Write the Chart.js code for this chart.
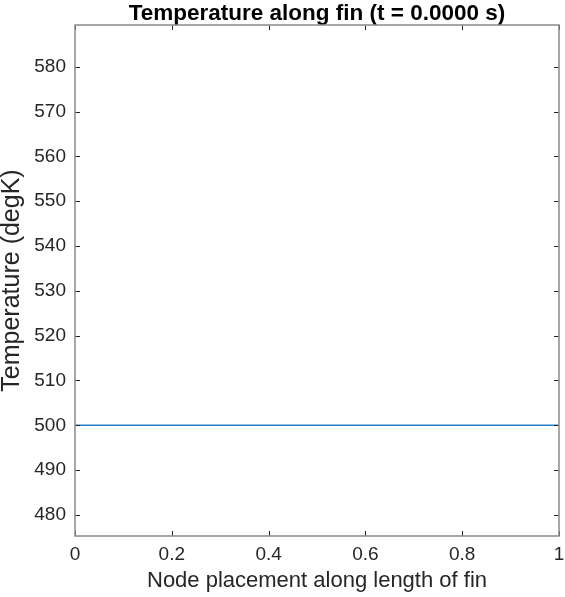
<!DOCTYPE html>
<html>
<head>
<meta charset="utf-8">
<script src="https://cdn.jsdelivr.net/npm/chart.js@4"></script>
<style>
  html, body { margin: 0; padding: 0; background: #fff; }
  #wrap { width: 565px; height: 597px; }
</style>
</head>
<body>
<div id="wrap"><canvas id="finChart" width="565" height="597"></canvas></div>
<script>
// node positions along the fin and temperature at each node (t = 0)
const nodePos = [0, 0.1, 0.2, 0.3, 0.4, 0.5, 0.6, 0.7, 0.8, 0.9, 1];
const nodeTemp = [500, 500, 500, 500, 500, 500, 500, 500, 500, 500, 500];

const xTicks = [0, 0.2, 0.4, 0.6, 0.8, 1];
const xTickLabels = ['0', '0.2', '0.4', '0.6', '0.8', '1'];
const yTicks = [480, 490, 500, 510, 520, 530, 540, 550, 560, 570, 580];

const textColor = '#262626';
const fontFamily = '"Liberation Sans", Arial, Helvetica, sans-serif';

// box around the plot plus inward tick marks on all four sides
const axesBox = {
    id: 'axesBox',
    afterDraw(chart) {
        const ctx = chart.ctx;
        const a = chart.chartArea;
        const xs = chart.scales.x;
        const ys = chart.scales.y;
        const len = 5;
        ctx.save();
        ctx.strokeStyle = textColor;
        ctx.lineWidth = 1;
        ctx.beginPath();
        xs.ticks.forEach(t => {
            const px = Math.round(xs.getPixelForValue(t.value)) + 0.5;
            ctx.moveTo(px, a.bottom); ctx.lineTo(px, a.bottom - len);
            ctx.moveTo(px, a.top); ctx.lineTo(px, a.top + len);
        });
        ys.ticks.forEach(t => {
            const py = Math.round(ys.getPixelForValue(t.value)) + 0.5;
            ctx.moveTo(a.left, py); ctx.lineTo(a.left + len, py);
            ctx.moveTo(a.right, py); ctx.lineTo(a.right - len, py);
        });
        ctx.stroke();
        ctx.strokeStyle = '#8a8a8a';
        ctx.lineWidth = 1.5;
        ctx.strokeRect(a.left, a.top, a.right - a.left, a.bottom - a.top);
        ctx.restore();
    }
};

function noPad(s) {
    s.paddingLeft = 0;
    s.paddingRight = 0;
    s.paddingTop = 0;
    s.paddingBottom = 0;
}

new Chart(document.getElementById('finChart'), {
    type: 'line',
    data: {
        datasets: [{
            data: nodePos.map((x, i) => ({ x: x, y: nodeTemp[i] })),
            borderColor: '#2a80c6',
            backgroundColor: '#2a80c6',
            borderWidth: 1.5,
            pointRadius: 0,
            tension: 0,
            xAxisID: 'x',
            yAxisID: 'y'
        }]
    },
    options: {
        responsive: false,
        animation: false,
        layout: { padding: 0 },
        plugins: { legend: { display: false }, tooltip: { enabled: false } },
        scales: {
            x: {
                type: 'linear',
                position: 'bottom',
                min: 0,
                max: 1,
                afterBuildTicks(s) { s.ticks = xTicks.map(v => ({ value: v })); },
                afterFit(s) { s.height = 61; noPad(s); },
                grid: { display: false, drawTicks: false },
                border: { display: false },
                ticks: {
                    color: textColor,
                    padding: 7,
                    maxRotation: 0,
                    font: { family: fontFamily, size: 19 },
                    callback: (v, i) => xTickLabels[i]
                },
                title: {
                    display: true,
                    text: 'Node placement along length of fin',
                    color: textColor,
                    font: { family: fontFamily, size: 22 },
                    padding: { top: 0, bottom: 3 }
                }
            },
            xTop: {
                type: 'linear',
                position: 'top',
                min: 0,
                max: 1,
                afterFit(s) { s.height = 25; noPad(s); },
                grid: { display: false, drawTicks: false },
                border: { display: false },
                ticks: { display: false },
                title: {
                    display: true,
                    text: 'Temperature along fin (t = 0.0000 s)',
                    color: '#000',
                    font: { family: fontFamily, size: 22.5, weight: 'bold' },
                    padding: { top: 0, bottom: 0 }
                }
            },
            y: {
                type: 'linear',
                position: 'left',
                min: 475.3,
                max: 589.3,
                afterBuildTicks(s) { s.ticks = yTicks.map(v => ({ value: v })); },
                afterFit(s) { s.width = 75; noPad(s); },
                grid: { display: false, drawTicks: false },
                border: { display: false },
                ticks: {
                    color: textColor,
                    padding: 9,
                    font: { family: fontFamily, size: 19 }
                },
                title: {
                    display: true,
                    text: 'Temperature (degK)',
                    color: textColor,
                    font: { family: fontFamily, size: 25, lineHeight: 0.98 },
                    padding: 0
                }
            },
            yRight: {
                type: 'linear',
                position: 'right',
                min: 475.3,
                max: 589.3,
                afterFit(s) { s.width = 6; noPad(s); },
                grid: { display: false, drawTicks: false },
                border: { display: false },
                ticks: { display: false }
            }
        }
    },
    plugins: [axesBox]
});
</script>
</body>
</html>
